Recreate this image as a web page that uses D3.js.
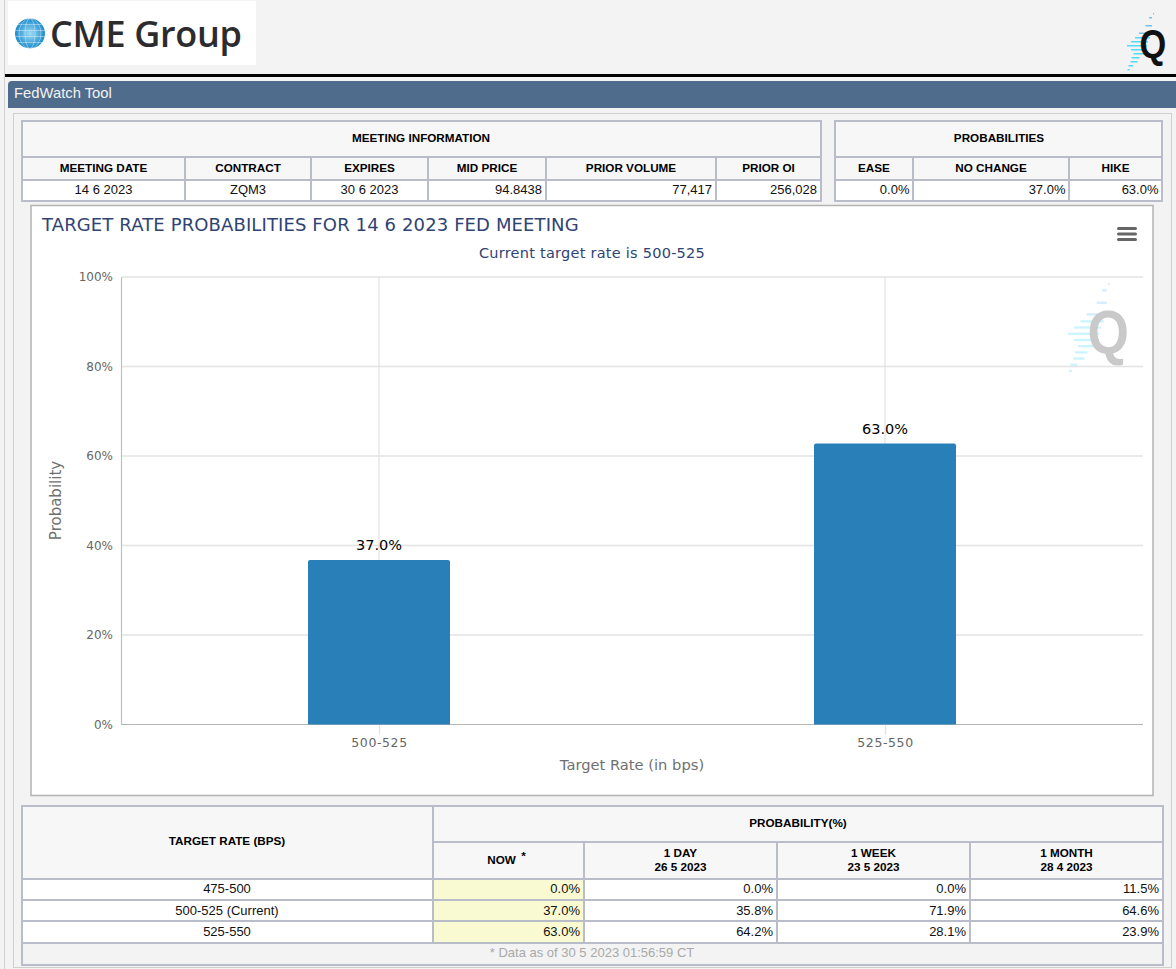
<!DOCTYPE html>
<html>
<head>
<meta charset="utf-8">
<title>FedWatch Tool</title>
<script src="https://cdn.jsdelivr.net/npm/d3@7/dist/d3.min.js"></script>
<style>
  html, body { margin: 0; padding: 0; background: #f3f3f3; }
  svg { display: block; }
  .cell { font-family: "Liberation Sans", Arial, sans-serif; font-size: 13px; fill: #111; }
  .head { font-weight: 700; font-size: 11.7px; fill: #000; }
  .hc { font-family: "DejaVu Sans", Verdana, sans-serif; }
  .tick text { font-family: "DejaVu Sans", Verdana, sans-serif; font-size: 12px; fill: #666; }
</style>
</head>
<body>
<div class="canvas"></div>
<script>
// chart values
const rates = ["500-525", "525-550"];
const probabilities = [37.0, 63.0];
const yTicks = [0, 20, 40, 60, 80, 100];

// table values
const meetingHeads = ["MEETING DATE", "CONTRACT", "EXPIRES", "MID PRICE", "PRIOR VOLUME", "PRIOR OI"];
const meetingValues = ["14 6 2023", "ZQM3", "30 6 2023", "94.8438", "77,417", "256,028"];
const probHeads = ["EASE", "NO CHANGE", "HIKE"];
const probValues = ["0.0%", "37.0%", "63.0%"];
const historyRates = ["475-500", "500-525 (Current)", "525-550"];
const historyNow = ["0.0%", "37.0%", "63.0%"];
const history1Day = ["0.0%", "35.8%", "64.2%"];
const history1Week = ["0.0%", "71.9%", "28.1%"];
const history1Month = ["11.5%", "64.6%", "23.9%"];

const width = 1176;
const height = 969;
const border = "#b9bdc9";
const titleColor = "#2f4374";

const svg = d3.select(".canvas").append("svg").attr("width", width).attr("height", height);

// page furniture
const rect = (p, x, y, w, h, fill, stroke, sw) =>
  p.append("rect").attr("x", x).attr("y", y).attr("width", w).attr("height", h)
    .attr("fill", fill).attr("stroke", stroke || "none").attr("stroke-width", sw || 0);

const label = (p, x, y, s, anchor, cls) =>
  p.append("text").attr("x", x).attr("y", y).attr("text-anchor", anchor || "middle")
    .attr("class", cls || "cell").text(s);

rect(svg, 4, 0, 1, height, "#d0d0d0");
rect(svg, 8, 1, 248, 64, "#fff");
rect(svg, 5, 74, width - 5, 3, "#000");

// logo globe
const defs = svg.append("defs");
const globeGrad = defs.append("radialGradient").attr("id", "globe");
globeGrad.append("stop").attr("offset", "0%").attr("stop-color", "#9ddcf7");
globeGrad.append("stop").attr("offset", "100%").attr("stop-color", "#1c8ccb");
const globe = svg.append("g").attr("transform", "translate(30,33.5)");
globe.append("circle").attr("r", 15).attr("fill", "url(#globe)");
[-9, -3, 3, 9].forEach((d) => {
  globe.append("line").attr("x1", -15).attr("x2", 15).attr("y1", d).attr("y2", d)
    .attr("stroke", "#fff").attr("stroke-width", 0.7).attr("opacity", 0.55);
});
[0, 5, 11].forEach((rx) => {
  globe.append("ellipse").attr("rx", rx).attr("ry", 15).attr("fill", "none")
    .attr("stroke", "#fff").attr("stroke-width", 0.7).attr("opacity", 0.55);
});
svg.append("text").attr("x", 50).attr("y", 46.5).attr("font-family", "Open Sans")
  .attr("font-weight", 600).attr("font-size", 36).attr("letter-spacing", -0.3)
  .attr("fill", "#2c2c2e").text("CME Group");

// Q logo used top right and as chart watermark
const qDashes = [[26, 0, 1], [22, 4, 3], [18.5, 12, 6.5], [12, 19.5, 13], [8, 24, 15], [4, 28, 17], [0, 32, 20],
  [4, 36, 16], [6.5, 40, 13], [4.5, 44, 8], [3.5, 48, 7], [1.5, 52, 4.5], [0.5, 56, 2]];

const qLogo = (x, y, k, qFill, dashOpacity) => {
  const g = svg.append("g").attr("transform", `translate(${x},${y}) scale(${k})`);
  qDashes.forEach((d) => {
    rect(g, d[0], d[1], d[2], 1.5, d[1] < 20 ? "#6cc4f5" : "#4fdcff").attr("opacity", dashOpacity);
  });
  g.append("text").attr("transform", "translate(12.6,45) scale(0.86,1)").attr("font-family", "Liberation Sans")
    .attr("font-weight", 700).attr("font-size", 40).attr("fill", qFill).text("Q");
};
qLogo(1127, 13, 1, "#111", 1);

// title bar
svg.append("path").attr("d", `M8 108V85Q8 81 12 81H${width}V108Z`).attr("fill", "#506c8c");
svg.append("text").attr("x", 14).attr("y", 98).attr("font-family", "Liberation Sans")
  .attr("font-size", 14.8).attr("fill", "#f2f2f2").text("FedWatch Tool");
rect(svg, 13.5, 113.5, 1158, 854, "#f3f3f3", "#cfcfcf", 1);

// one bordered table cell
const cell = (x0, x1, y0, y1, fill) => {
  rect(svg, x0, y0, x1 - x0, y1 - y0, fill, border, 2);
};

// meeting information table
const meetingCols = [22, 185, 311, 428, 546, 716, 821];
cell(22, 821, 121, 157, "#f7f7f7");
label(svg, 421, 142, "MEETING INFORMATION", "middle", "cell head");
meetingHeads.forEach((h, i) => {
  cell(meetingCols[i], meetingCols[i + 1], 157, 180, "#f7f7f7");
  label(svg, (meetingCols[i] + meetingCols[i + 1]) / 2, 172, h, "middle", "cell head");
});
meetingValues.forEach((v, i) => {
  cell(meetingCols[i], meetingCols[i + 1], 180, 201, "#fff");
  if (i < 3) label(svg, (meetingCols[i] + meetingCols[i + 1]) / 2, 194, v);
  else label(svg, meetingCols[i + 1] - 4, 194, v, "end");
});

// probabilities table
const probCols = [835, 913, 1069, 1162];
cell(835, 1162, 121, 157, "#f7f7f7");
label(svg, 999, 142, "PROBABILITIES", "middle", "cell head");
probHeads.forEach((h, i) => {
  cell(probCols[i], probCols[i + 1], 157, 180, "#f7f7f7");
  label(svg, (probCols[i] + probCols[i + 1]) / 2, 172, h, "middle", "cell head");
  cell(probCols[i], probCols[i + 1], 180, 201, "#fff");
  label(svg, probCols[i + 1] - 3.5, 194, probValues[i], "end");
});

// chart box
rect(svg, 31, 205.5, 1122, 590, "#fff", "#b3b3b3", 1.5);

const plot = { left: 121, right: 1143, top: 277, bottom: 724.5 };
const x = d3.scalePoint().domain(rates).range([plot.left + 258, plot.right - 258]);
const y = d3.scaleLinear().domain([0, 100]).range([plot.bottom, plot.top]);
const barWidth = 142;

qLogo(1068, 283, 1.55, "#c9c9c9", 0.3);

const graph = svg.append("g");

// gridlines
graph.selectAll(".hgrid").data(yTicks.slice(1)).enter().append("line")
  .attr("x1", plot.left).attr("x2", plot.right)
  .attr("y1", (d) => y(d)).attr("y2", (d) => y(d))
  .attr("stroke", "#e3e3e3").attr("stroke-width", 1.3);
graph.selectAll(".vgrid").data(rates).enter().append("line")
  .attr("x1", (d) => x(d)).attr("x2", (d) => x(d))
  .attr("y1", plot.top).attr("y2", plot.bottom)
  .attr("stroke", "#e3e3e3").attr("stroke-width", 1.3);

// axes
const yAxis = d3.axisLeft(y).tickValues(yTicks).tickSize(0).tickPadding(8).tickFormat((d) => d + "%");
const xAxis = d3.axisBottom(x).tickSize(10).tickPadding(4);

const yAxisGroup = graph.append("g").attr("transform", `translate(${plot.left},0)`).call(yAxis);
yAxisGroup.select(".domain").attr("stroke", "#c0c0c0").attr("stroke-width", 1.2);

const xAxisGroup = graph.append("g").attr("transform", `translate(0,${plot.bottom})`).call(xAxis);
xAxisGroup.select(".domain").remove();
xAxisGroup.selectAll("line").attr("stroke", "#e3e3e3").attr("stroke-width", 1.3);
xAxisGroup.selectAll("text").style("font-size", "12.5px").attr("letter-spacing", 0.6);
xAxisGroup.append("line").attr("x1", plot.left).attr("x2", plot.right).attr("stroke", "#b5b5b5").attr("stroke-width", 1.2);

// bars, sitting a pixel low like the crisp edges in the original
const topRounded = (cx, yTop, w, yBase, r) =>
  `M${cx - w / 2} ${yBase}V${yTop + r}Q${cx - w / 2} ${yTop} ${cx - w / 2 + r} ${yTop}` +
  `H${cx + w / 2 - r}Q${cx + w / 2} ${yTop} ${cx + w / 2} ${yTop + r}V${yBase}Z`;

graph.selectAll(".bar").data(rates).enter().append("path")
  .attr("class", "bar")
  .attr("fill", "#2980b9")
  .attr("d", (d, i) => topRounded(x(d), y(probabilities[i]) + 1, barWidth, y(0), 2));

graph.selectAll(".bar-label").data(rates).enter().append("text")
  .attr("class", "hc")
  .attr("x", (d) => x(d))
  .attr("y", (d, i) => y(probabilities[i]) - 9)
  .attr("text-anchor", "middle")
  .attr("font-size", 14.5)
  .attr("fill", "#000")
  .text((d, i) => probabilities[i].toFixed(1) + "%");

// chart text
svg.append("text").attr("class", "hc").attr("x", 42).attr("y", 231).attr("font-size", 18)
  .attr("letter-spacing", 0.12).attr("fill", titleColor)
  .text("TARGET RATE PROBABILITIES FOR 14 6 2023 FED MEETING");
svg.append("text").attr("class", "hc").attr("x", 592).attr("y", 258).attr("text-anchor", "middle")
  .attr("font-size", 14.5).attr("letter-spacing", 0.25).attr("fill", titleColor)
  .text("Current target rate is 500-525");
svg.append("text").attr("class", "hc").attr("x", 632).attr("y", 770).attr("text-anchor", "middle")
  .attr("font-size", 14.7).attr("fill", "#707070").text("Target Rate (in bps)");
svg.append("text").attr("class", "hc").attr("transform", "translate(61,500.5) rotate(-90)")
  .attr("text-anchor", "middle").attr("font-size", 15).attr("fill", "#707070").text("Probability");

// menu icon
[228, 233.5, 239].forEach((d) => {
  rect(svg, 1117, d - 1, 20, 3, "#666").attr("rx", 1.5);
});

// history table
const histCols = [22, 433, 584, 777, 970, 1163];
const histRows = [879, 900, 921, 943];
rect(svg, 22, 806, 1141, 159, "#f3f3f3", border, 2);
cell(22, 433, 806, 879, "#f7f7f7");
label(svg, 227, 845, "TARGET RATE (BPS)", "middle", "cell head");
cell(433, 1163, 806, 842, "#f7f7f7");
label(svg, 798, 827, "PROBABILITY(%)", "middle", "cell head");

const histHeads = [["NOW"], ["1 DAY", "26 5 2023"], ["1 WEEK", "23 5 2023"], ["1 MONTH", "28 4 2023"]];
histHeads.forEach((h, i) => {
  const cx = (histCols[i + 1] + histCols[i + 2]) / 2;
  cell(histCols[i + 1], histCols[i + 2], 842, 879, "#f7f7f7");
  if (h.length === 1) {
    label(svg, cx - 7, 864, h[0], "middle", "cell head");
    label(svg, cx + 15, 860, "*", "middle", "cell head").attr("font-size", 9);
  } else {
    label(svg, cx, 857, h[0], "middle", "cell head");
    label(svg, cx, 871, h[1], "middle", "cell head");
  }
});

const histColumns = [historyNow, history1Day, history1Week, history1Month];
historyRates.forEach((r, row) => {
  const textY = histRows[row] + (row ? 15 : 14);
  cell(histCols[0], histCols[1], histRows[row], histRows[row + 1], "#fff");
  label(svg, 227, textY, r);
  histColumns.forEach((col, i) => {
    cell(histCols[i + 1], histCols[i + 2], histRows[row], histRows[row + 1], i === 0 ? "#fafad2" : "#fff");
    label(svg, histCols[i + 2] - 4, textY, col[row], "end");
  });
});
label(svg, 592, 957, "* Data as of 30 5 2023 01:56:59 CT", "middle", "cell").style("fill", "#a9a9a9");
</script>
</body>
</html>
